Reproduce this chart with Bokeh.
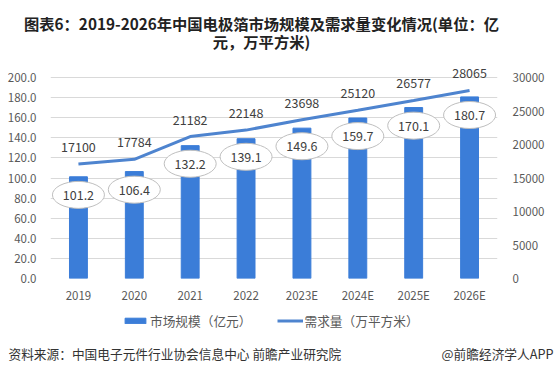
from bokeh.plotting import figure
from bokeh.layouts import column
from bokeh.models import (ColumnDataSource, LinearAxis, Range1d, FactorRange, Label,
                          Legend, LegendItem, FixedTicker, NumeralTickFormatter, Plot)
from bokeh.embed import file_html
from bokeh.resources import INLINE
from bokeh.core.properties import value
import numpy as np

years = ["2019", "2020", "2021", "2022", "2023E", "2024E", "2025E", "2026E"]
market = [101.2, 106.4, 132.2, 139.1, 149.6, 159.7, 170.1, 180.7]
demand = [17100, 17784, 21182, 22148, 23698, 25120, 26577, 28065]
left_ticks = [0, 20, 40, 60, 80, 100, 120, 140, 160, 180, 200]
right_ticks = [0, 5000, 10000, 15000, 20000, 25000, 30000]

FONT = "Noto Sans CJK SC"
BAR = "#3b7dd8"
LINE = "#4e84cf"

FRAME_H = 218
AXIS_H = 201
lmax = 200 * FRAME_H / AXIS_H
rmax = 30000 * FRAME_H / AXIS_H

HAS_ALIGN = "frame_align" in Plot.properties()

src = ColumnDataSource(dict(
    x=years, m=market, d=demand,
    ml=[f"{v:.1f}" for v in market],
    dl=[str(v) for v in demand],
    ey=list(np.array(market) - 18.0),
))

xr = FactorRange(*years, range_padding=0)


def blank(h):
    f = figure(width=555, height=h, x_range=FactorRange(*years, range_padding=0),
               y_range=Range1d(0, lmax),
               x_axis_type=None, y_axis_type=None, output_backend="svg",
               toolbar_location=None, min_border=0)
    f.outline_line_color = None
    f.grid.grid_line_color = None
    f.background_fill_color = "white"
    f.border_fill_color = "white"
    if HAS_ALIGN:
        f.frame_align = False
    return f


# ---- title ----
top = blank(52)
top.add_layout(Label(x=261, y=30, x_units="screen", y_units="screen",
                     text="图表6：2019-2026年中国电极箔市场规模及需求量变化情况(单位：亿",
                     text_align="center", text_baseline="middle", text_font=FONT,
                     text_font_size="15.3px", text_font_style="bold", text_color="#222222"))
top.add_layout(Label(x=261, y=12, x_units="screen", y_units="screen",
                     text="元，万平方米)",
                     text_align="center", text_baseline="middle", text_font=FONT,
                     text_font_size="15.3px", text_font_style="bold", text_color="#222222"))

# ---- main chart ----
p = figure(width=555, height=254, x_range=xr,
           y_range=Range1d(0, lmax), output_backend="svg", toolbar_location=None,
           min_border_left=50, min_border_right=58, min_border_top=8, min_border_bottom=28)
p.outline_line_color = None
p.background_fill_color = "white"
p.border_fill_color = "white"
p.extra_y_ranges = {"r": Range1d(0, rmax)}
if HAS_ALIGN:
    p.frame_align = False

p.xgrid.grid_line_color = None
p.ygrid.grid_line_color = "#d9d9d9"
p.ygrid.ticker = FixedTicker(ticks=left_ticks)

la = p.yaxis[0]
la.ticker = FixedTicker(ticks=left_ticks)
la.formatter = NumeralTickFormatter(format="0.0")

ra = LinearAxis(y_range_name="r", ticker=FixedTicker(ticks=right_ticks))
p.add_layout(ra, "right")

for ax in [la, ra, p.xaxis[0]]:
    ax.axis_line_color = None
    ax.major_tick_line_color = None
    ax.minor_tick_line_color = None
    ax.major_tick_out = 0
    ax.major_tick_in = 0
    ax.major_label_text_font = FONT
    ax.major_label_text_font_size = "11.5px"
    ax.major_label_text_color = "#595959"
la.major_label_standoff = 14
ra.major_label_standoff = 15
p.xaxis[0].major_label_standoff = 8

p.vbar(x="x", top="m", width=0.32, source=src, color=BAR)
p.line(x="x", y="d", source=src, y_range_name="r", line_color=LINE, line_width=3)

p.ellipse(x="x", y="ey", width=52, height=27, width_units="screen", height_units="screen",
          source=src, fill_color="white", line_color="#bfbfbf", line_width=1)
p.text(x="x", y="ey", text="ml", source=src, text_align="center", text_baseline="middle",
       text_font=value(FONT), text_font_size="12.5px", text_color="#404040")
p.text(x="x", y="d", text="dl", source=src, y_range_name="r", y_offset=-17,
       text_align="center", text_baseline="middle",
       text_font=value(FONT), text_font_size="12.5px", text_color="#404040")

# ---- legend + source ----
bot = blank(68)
lb_bar = bot.vbar(x="x", top="m", width=0.32, source=src, color=BAR, visible=False)
lb_line = bot.line(x="x", y="m", source=src, line_color=LINE, line_width=3, visible=False)
legend = Legend(items=[LegendItem(label="市场规模（亿元）", renderers=[lb_bar]),
                       LegendItem(label="需求量（万平方米）", renderers=[lb_line])],
                orientation="horizontal", location=(122, 44),
                glyph_width=26, glyph_height=7, label_standoff=2, spacing=25,
                padding=0, margin=0, border_line_color=None, background_fill_alpha=0,
                inactive_fill_alpha=0,
                label_text_font=FONT, label_text_font_size="12.7px",
                label_text_color="#595959")
bot.add_layout(legend, "center")
bot.add_layout(Label(x=8, y=21, x_units="screen", y_units="screen",
                     text="资料来源：中国电子元件行业协会信息中心 前瞻产业研究院",
                     text_align="left", text_baseline="middle", text_font=FONT,
                     text_font_size="12.7px", text_color="#333333"))
bot.add_layout(Label(x=553, y=21, x_units="screen", y_units="screen",
                     text="@前瞻经济学人APP",
                     text_align="right", text_baseline="middle", text_font=FONT,
                     text_font_size="12.7px", text_color="#333333"))

layout = column(top, p, bot, spacing=0)
open("out.html", "w").write(file_html(layout, INLINE))
